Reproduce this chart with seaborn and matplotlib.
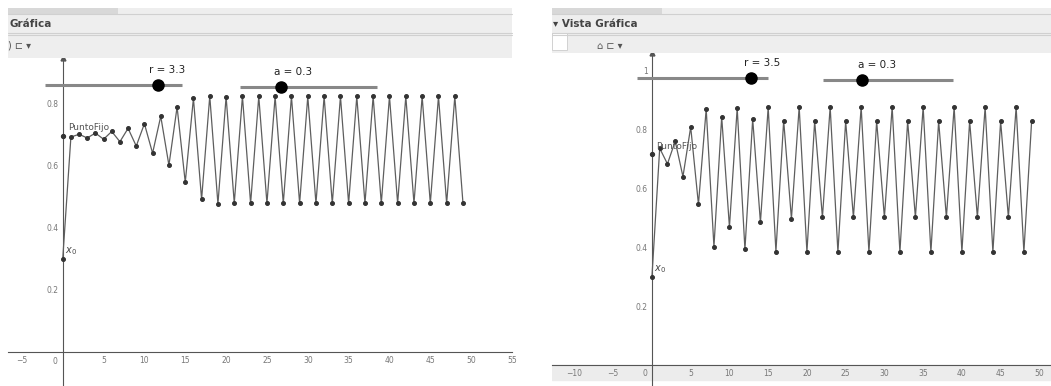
import matplotlib
matplotlib.use("Agg")
import matplotlib.pyplot as plt
import seaborn as sns
import pandas as pd
from matplotlib.patches import Rectangle

sns.set_style("white")
plt.rcParams["font.family"] = ["DejaVu Sans"]

# iterations (n = 0..49)
n = list(range(50))
x_r33 = [0.300, 0.693, 0.702, 0.690, 0.706, 0.686, 0.711, 0.678, 0.721, 0.664,
         0.736, 0.641, 0.760, 0.602, 0.790, 0.547, 0.818, 0.492, 0.825, 0.477,
         0.823, 0.480, 0.824, 0.479, 0.824, 0.479, 0.824, 0.479, 0.824, 0.479,
         0.824, 0.479, 0.824, 0.479, 0.824, 0.479, 0.824, 0.479, 0.824, 0.479,
         0.824, 0.479, 0.824, 0.479, 0.824, 0.479, 0.824, 0.479, 0.824, 0.479]
x_r35 = [0.300, 0.735, 0.682, 0.759, 0.639, 0.807, 0.545, 0.868, 0.401, 0.841,
         0.468, 0.871, 0.392, 0.834, 0.484, 0.874, 0.385, 0.829, 0.496, 0.875,
         0.383, 0.827, 0.501, 0.875, 0.383, 0.827, 0.501, 0.875, 0.383, 0.827,
         0.501, 0.875, 0.383, 0.827, 0.501, 0.875, 0.383, 0.827, 0.501, 0.875,
         0.383, 0.827, 0.501, 0.875, 0.383, 0.827, 0.501, 0.875, 0.383, 0.827]
fixed_r33 = 0.697
fixed_r35 = 0.714
r_values = [3.3, 3.5]
a_value = 0.3

W, H = 1051, 386
fig = plt.figure(figsize=(W / 100, H / 100), dpi=100)


def px(x0, y0, w, h):
    return [x0 / W, 1 - (y0 + h) / H, w / W, h / H]


def header(x0, x1, top, bottom, title, tools, box=False):
    # GeoGebra window header: tab strip, title bar and toolbar
    fig.patches.append(Rectangle((x0 / W, 1 - bottom / H), (x1 - x0) / W,
                                 (bottom - top) / H, transform=fig.transFigure,
                                 facecolor="#eeeeee", edgecolor="none"))
    fig.patches.append(Rectangle((x0 / W, 1 - (top + 6) / H), 110 / W, 6 / H,
                                 transform=fig.transFigure,
                                 facecolor="#d8d8d8", edgecolor="none"))
    for yy in [top + 6, top + 25, top + 27]:
        fig.add_artist(plt.Line2D([x0 / W, x1 / W], [1 - yy / H, 1 - yy / H],
                                  color="#d0d0d0", lw=0.8))
    fig.text((x0 + 1) / W, 1 - (top + 16) / H, title, fontsize=7.5,
             color="#444444", va="center", ha="left", fontweight="bold")
    if box:
        fig.patches.append(Rectangle((x0 / W, 1 - (bottom - 3) / H), 15 / W,
                                     17 / H, transform=fig.transFigure,
                                     facecolor="white", edgecolor="#cccccc",
                                     lw=0.6))
    fig.text(tools[0] / W, 1 - (top + 38) / H, tools[1], fontsize=7,
             color="#555555", va="center", ha="left")


header(8, 512, 8, 58, "Gráfica", (8, ") ⊏ ▾"))
header(552, 1051, 8, 53, "▾ Vista Gráfica", (597, "⌂ ⊏ ▾"), box=True)

panels = [
    (px(8, 58, 504, 328), x_r33, fixed_r33, (-6.7, 54.8), (-0.11, 0.948),
     [0.2, 0.4, 0.6, 0.8], list(range(-5, 60, 5)),
     [(0.073, 0.345, 0.918, 0.298, 0.315, 0.963),
      (0.460, 0.732, 0.912, 0.542, 0.565, 0.957)]),
    (px(552, 53, 499, 333), x_r35, fixed_r35, (-12.9, 51.5), (-0.071, 1.058),
     [0.2, 0.4, 0.6, 0.8, 1.0], list(range(-10, 55, 5)),
     [(0.170, 0.433, 0.925, 0.399, 0.421, 0.970),
      (0.543, 0.804, 0.919, 0.621, 0.651, 0.964)]),
]

for i, (rect, values, fixed, xlim, ylim, yt, xt, sliders) in enumerate(panels):
    ax = fig.add_axes(rect)
    df = pd.DataFrame({"n": n, "x": values})
    sns.lineplot(data=df, x="n", y="x", ax=ax, color="#5e5e5e", lw=0.9,
                 marker="o", markersize=2.8, markerfacecolor="#333333",
                 markeredgecolor="#333333", zorder=3)
    ax.plot([0], [fixed], "o", color="#333333", markersize=2.8, zorder=4)
    ax.text(0.6, fixed + 0.012, "PuntoFijo", fontsize=6.5, color="#555555",
            va="bottom", ha="left")
    ax.text(0.3, values[0] + 0.005, "$x_0$", fontsize=7, color="#444444",
            va="bottom", ha="left")

    ax.set_xlim(*xlim)
    ax.set_ylim(*ylim)
    ax.set_xlabel("")
    ax.set_ylabel("")
    for s in ["top", "right"]:
        ax.spines[s].set_visible(False)
    ax.spines["left"].set_position(("data", 0))
    ax.spines["bottom"].set_position(("data", 0))
    ax.spines["left"].set_color("#555555")
    ax.spines["bottom"].set_color("#555555")
    ax.spines["left"].set_linewidth(0.8)
    ax.spines["bottom"].set_linewidth(0.8)
    # small arrow tip on top of the y axis
    ax.plot([0], [1], marker="^", color="#555555", markersize=3.5,
            transform=ax.get_xaxis_transform(), clip_on=False, zorder=6)
    ax.set_xticks([t for t in xt if t != 0])
    ax.set_yticks(yt)
    ax.set_yticklabels([f"{t:g}" for t in yt])
    ax.tick_params(axis="both", labelsize=5.5, colors="#777777", length=2,
                   width=0.6, direction="inout", pad=2)
    ax.text(-0.6, -0.015, "0", fontsize=5.5, color="#777777", ha="right",
            va="top")
    if i == 1:
        ax.axhspan(-0.052, 0.0, color="#ececec", zorder=0)

    # sliders for r and a
    labels = [f"r = {r_values[i]}", f"a = {a_value}"]
    for (sx0, sx1, sy, dot, lx, ly), lab in zip(sliders, labels):
        ax.plot([sx0, sx1], [sy, sy], color="#888888", lw=2.2,
                transform=ax.transAxes, solid_capstyle="butt", zorder=5)
        ax.plot([dot], [sy], "o", color="black", markersize=8,
                transform=ax.transAxes, zorder=6)
        ax.text(lx, ly, lab, fontsize=7.5, color="#222222", ha="center",
                va="center", transform=ax.transAxes)

fig.savefig("out.png", dpi=100)
